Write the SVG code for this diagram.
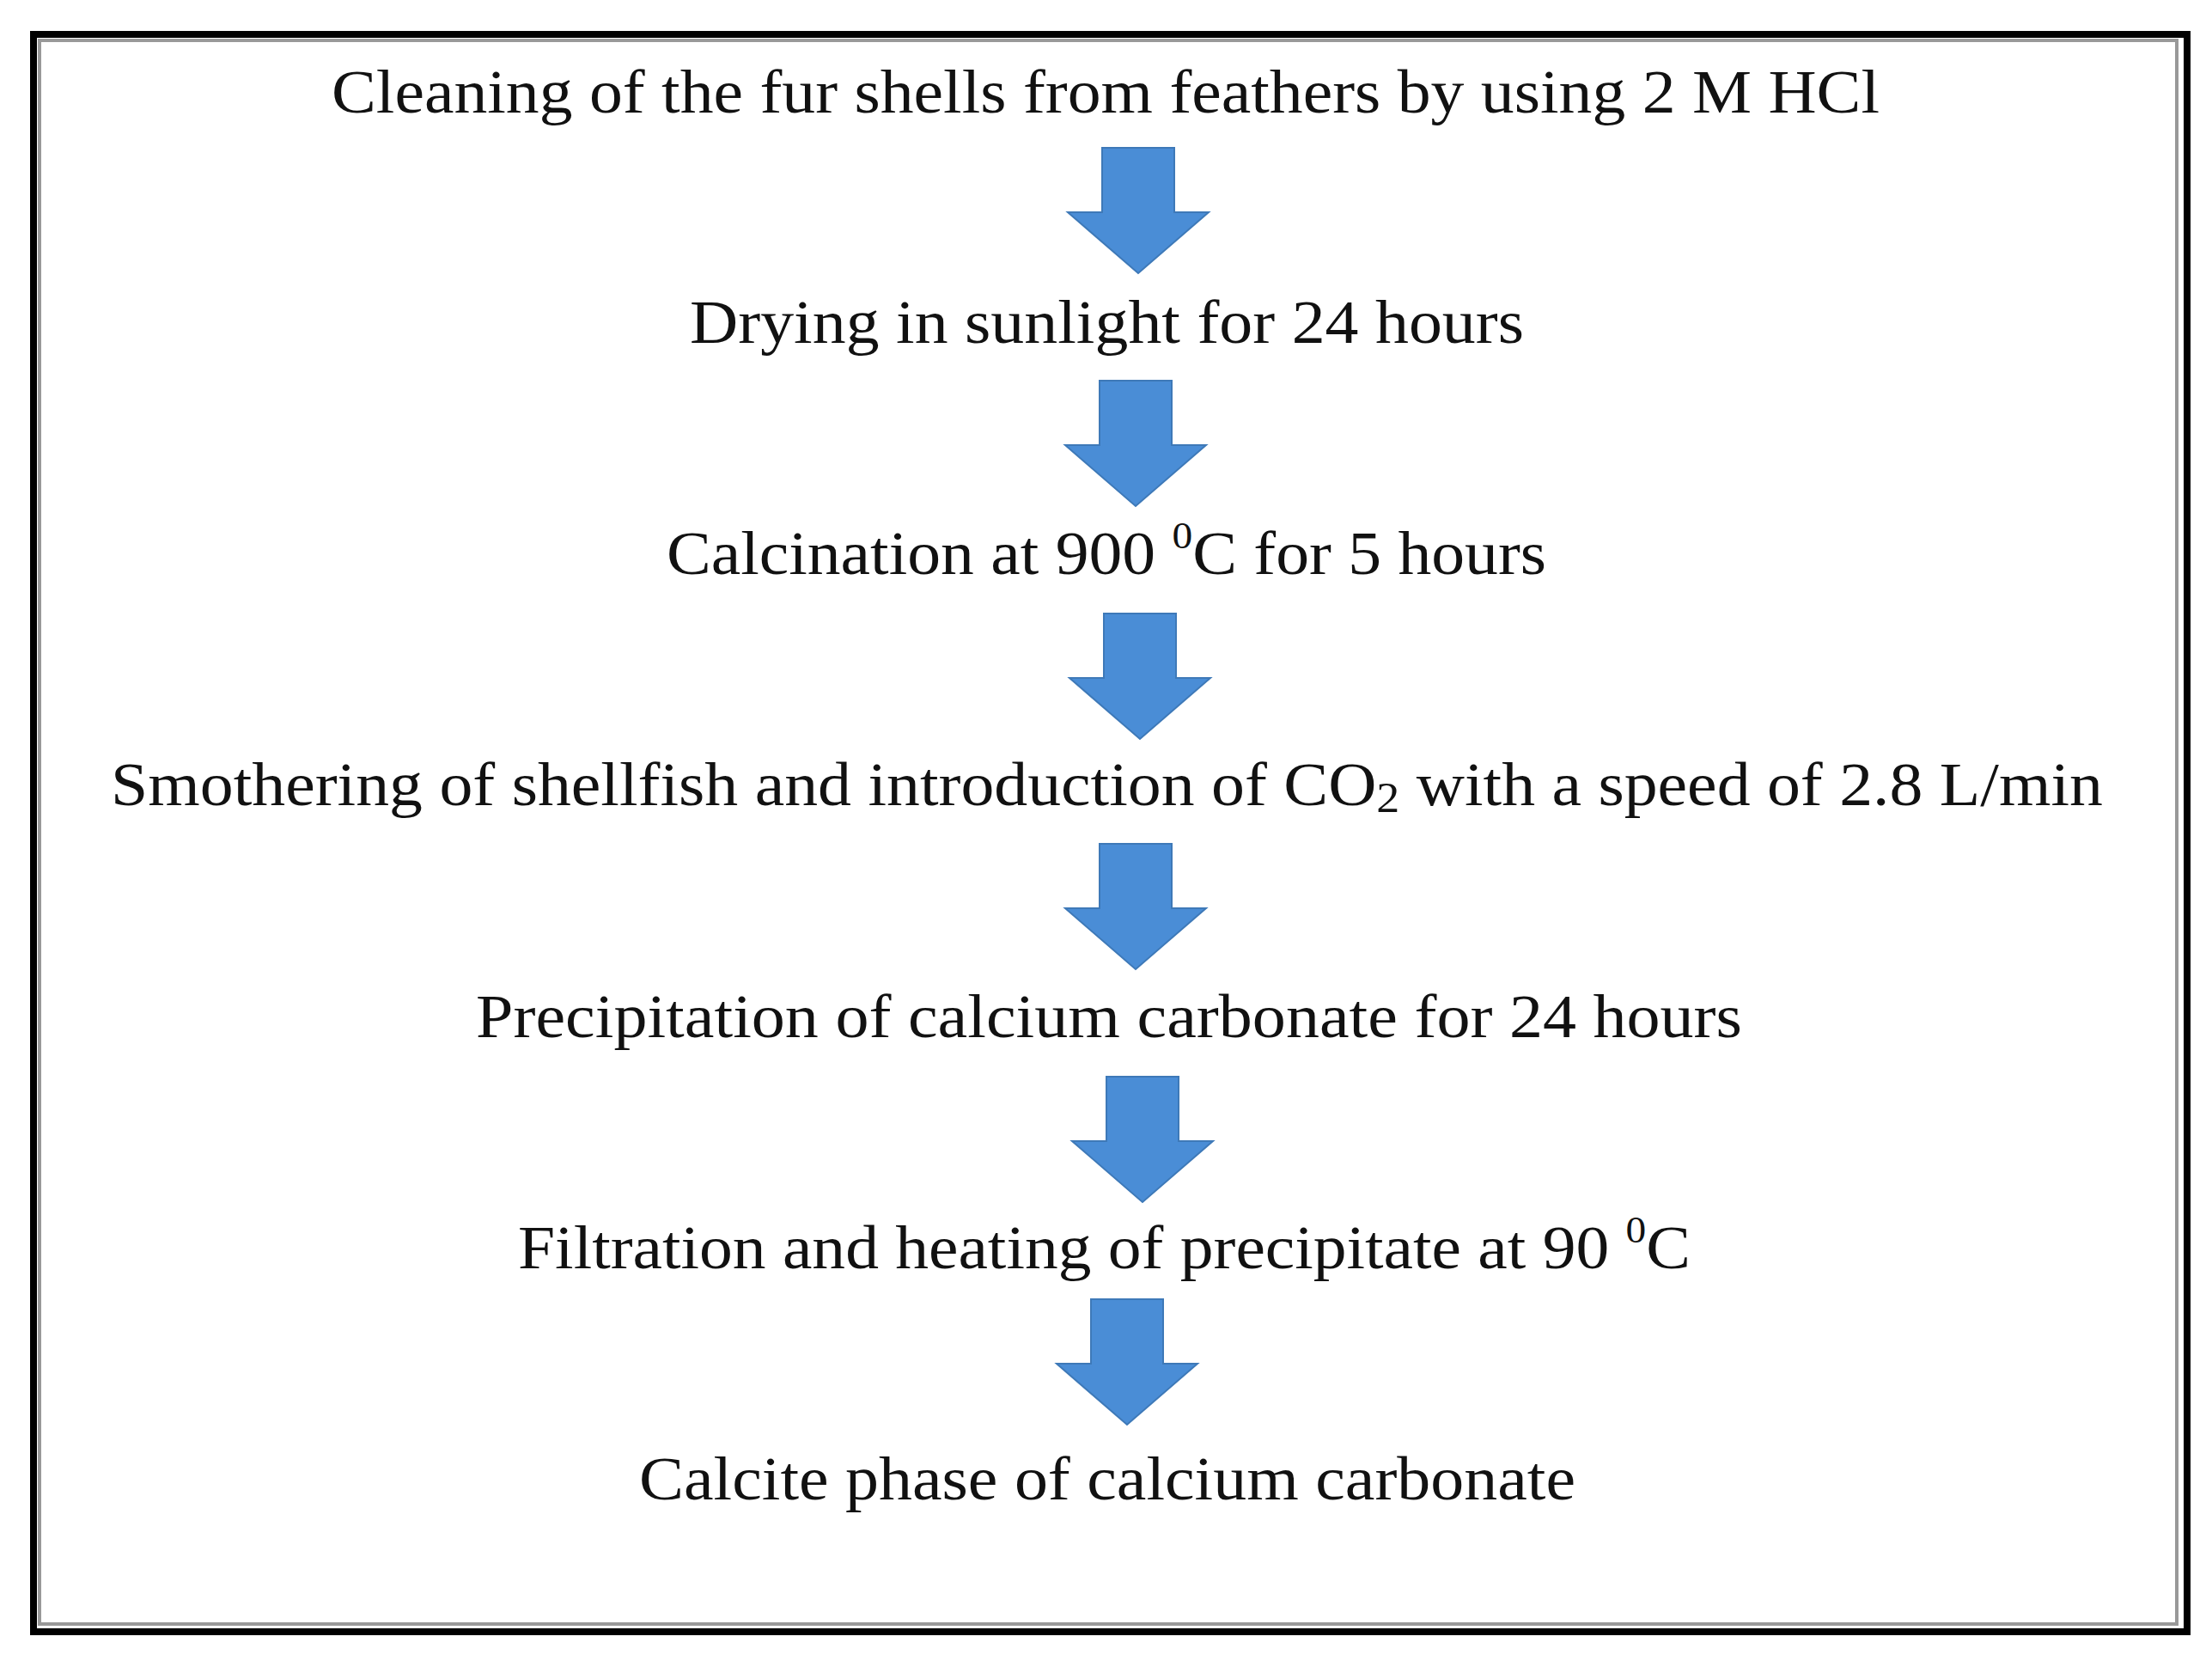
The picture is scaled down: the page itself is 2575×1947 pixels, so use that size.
<svg xmlns="http://www.w3.org/2000/svg" width="2575" height="1947" viewBox="0 0 2575 1947">
<style>
.t{font-family:"Liberation Serif","Times New Roman",serif;font-size:72px;fill:#111;}
.a{fill:#4A8DD6;stroke:#3E79B8;stroke-width:2;}
</style>
<defs>
<path id="arr" d="M-42,0 H42 V75 H82 L0,146 L-82,75 H-42 Z"/>
</defs>
<rect width="2575" height="1947" fill="#fff"/>
<g id="frame">
<rect x="39" y="40" width="2507" height="1859" fill="none" stroke="#000" stroke-width="8"/>
<rect x="46" y="47" width="2488" height="1843" fill="none" stroke="#999" stroke-width="4"/>
</g>
<g id="step1"><text class="t" x="386" y="131" textLength="1802" lengthAdjust="spacingAndGlyphs">Cleaning of the fur shells from feathers by using 2 M HCl</text></g>
<g id="step2"><text class="t" x="803" y="399" textLength="971" lengthAdjust="spacingAndGlyphs">Drying in sunlight for 24 hours</text></g>
<g id="step3"><text class="t" x="776" y="668" textLength="1024" lengthAdjust="spacingAndGlyphs">Calcination at 900 <tspan font-size="44" dy="-30">0</tspan><tspan dy="30">C for 5 hours</tspan></text></g>
<g id="step4"><text class="t" x="129" y="937" textLength="2319" lengthAdjust="spacingAndGlyphs">Smothering of shellfish and introduction of CO<tspan font-size="50" dy="8">2</tspan><tspan dy="-8"> with a speed of 2.8 L/min</tspan></text></g>
<g id="step5"><text class="t" x="554" y="1207" textLength="1474" lengthAdjust="spacingAndGlyphs">Precipitation of calcium carbonate for 24 hours</text></g>
<g id="step6"><text class="t" x="603" y="1476" textLength="1365" lengthAdjust="spacingAndGlyphs">Filtration and heating of precipitate at 90 <tspan font-size="44" dy="-30">0</tspan><tspan dy="30">C</tspan></text></g>
<g id="step7"><text class="t" x="744" y="1745" textLength="1090" lengthAdjust="spacingAndGlyphs">Calcite phase of calcium carbonate</text></g>
<g id="connectors">
<use href="#arr" class="a" x="1325" y="172"/>
<use href="#arr" class="a" x="1322" y="443"/>
<use href="#arr" class="a" x="1327" y="714"/>
<use href="#arr" class="a" x="1322" y="982"/>
<use href="#arr" class="a" x="1330" y="1253"/>
<use href="#arr" class="a" x="1312" y="1512"/>
</g>
</svg>
